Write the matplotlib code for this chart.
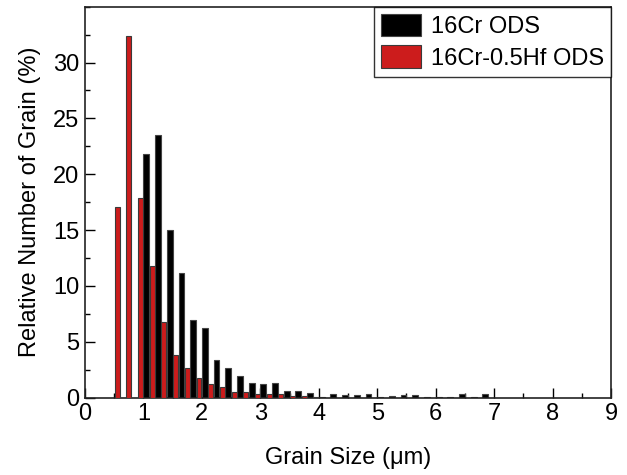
import matplotlib
matplotlib.use("Agg")
import matplotlib.pyplot as plt
from matplotlib.ticker import MultipleLocator

plt.rcParams['font.family'] = ['Liberation Sans', 'DejaVu Sans']

# Bin centres (grain size, um) and relative number of grains (%)
red_size = [0.55, 0.75, 0.95, 1.15, 1.35, 1.55, 1.75, 1.95, 2.15, 2.35,
            2.55, 2.75, 2.95, 3.15, 3.35, 3.55, 3.75, 3.95]
red_vals = [17.1, 32.4, 17.9, 11.8, 6.8, 3.8, 2.7, 1.8, 1.2, 1.0,
            0.5, 0.5, 0.33, 0.3, 0.3, 0.18, 0.18, 0.1]

black_size = [1.05, 1.25, 1.45, 1.65, 1.85, 2.05, 2.25, 2.45, 2.65, 2.85,
              3.05, 3.25, 3.45, 3.65, 3.85, 4.05, 4.25, 4.45, 4.65, 4.85,
              5.05, 5.25, 5.45, 5.65, 5.85, 6.05, 6.25, 6.45, 6.65, 6.85]
black_vals = [21.8, 23.5, 15.0, 11.2, 7.0, 6.2, 3.4, 2.65, 1.9, 1.35,
              1.2, 1.28, 0.63, 0.63, 0.42, 0.05, 0.3, 0.2, 0.23, 0.3,
              0.05, 0.15, 0.2, 0.25, 0.1, 0.05, 0.1, 0.3, 0.1, 0.3]

labels = ["16Cr ODS", "16Cr-0.5Hf ODS"]
xticks = [0, 1, 2, 3, 4, 5, 6, 7, 8, 9]
yticks = [0, 5, 10, 15, 20, 25, 30]

fig = plt.figure(figsize=(6.27, 4.75), dpi=100)
ax = fig.add_axes([0.1356, 0.1627, 0.8389, 0.8233])

ax.bar(black_size, black_vals, width=0.1, color='black', edgecolor='#444444',
       linewidth=0.8, label=labels[0], zorder=2)
ax.bar(red_size, red_vals, width=0.085, color='#cc1c1c', edgecolor='#3a3a3a',
       linewidth=0.8, label=labels[1], zorder=3)

ax.set_xlim(0, 9)
ax.set_ylim(0, 35)
ax.set_xticks(xticks)
ax.set_yticks(yticks)
ax.xaxis.set_minor_locator(MultipleLocator(0.5))
ax.yaxis.set_minor_locator(MultipleLocator(2.5))
ax.tick_params(which='major', direction='in', length=7, width=1,
               labelsize=17, top=False, right=False, pad=4)
ax.tick_params(which='minor', direction='in', length=3.5, width=1,
               top=False, right=False)
for s in ax.spines.values():
    s.set_linewidth(1.2)
    s.set_color('#222222')

ax.set_xlabel("Grain Size (\u03bcm)", fontsize=17, labelpad=16)
ax.set_ylabel("Relative Number of Grain (%)", fontsize=17, labelpad=9)

leg = ax.legend(loc='upper right', fontsize=17, frameon=True, fancybox=False,
                edgecolor='black', borderaxespad=0, handlelength=1.7,
                handleheight=1.1, handletextpad=0.4, labelspacing=0.3,
                borderpad=0.3)
leg.get_frame().set_linewidth(1.0)

fig.savefig("out.png", dpi=100)
